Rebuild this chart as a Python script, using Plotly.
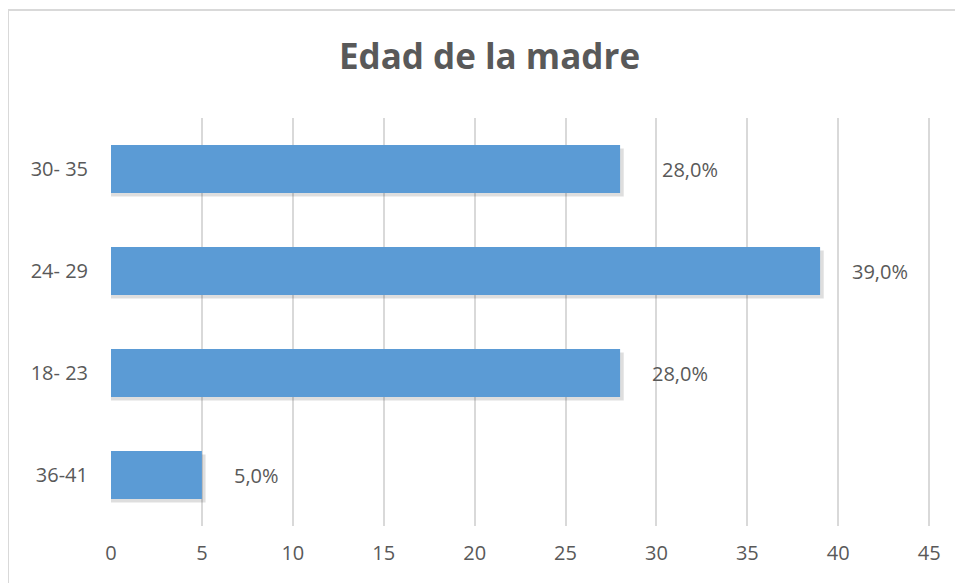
""" Horizontal bar chart: Edad de la madre """
import plotly.graph_objects as go

# data (bottom to top as drawn)
grupos = ["36-41", "18- 23", "24- 29", "30- 35"]
valores = [5, 28, 39, 28]
porcentajes = [5.0, 28.0, 39.0, 28.0]
x_ticks = [0, 5, 10, 15, 20, 25, 30, 35, 40, 45]

etiquetas = [f"{p:.1f}%".replace(".", ",") for p in porcentajes]
# pixel gap between bar end and its label (top label sits a bit further out)
desplaz = [30, 30, 30, 40]

gris = "#595959"
azul = "#5B9BD5"
fuente = "Open Sans"

fig = go.Figure()
# soft shadow behind each bar
fig.add_bar(
    y=grupos, x=[v + 0.2 for v in valores], orientation="h",
    width=0.47, offset=-0.235 - 0.035,
    marker=dict(color="rgba(0,0,0,0.13)", line=dict(width=0)),
    showlegend=False, hoverinfo="skip",
)
fig.add_bar(
    y=grupos, x=valores, orientation="h",
    width=0.47, offset=-0.235,
    marker=dict(color=azul, line=dict(width=0)),
    showlegend=False, hoverinfo="skip",
)

# value labels to the right of each bar
for g, v, t, d in zip(grupos, valores, etiquetas, desplaz):
    fig.add_annotation(
        x=v, y=g, text=t, showarrow=False,
        xanchor="left", xshift=d,
        font=dict(family=fuente, size=20, color=gris),
    )

# outer chart border (left and top edges visible)
fig.add_shape(
    type="path", xref="paper", yref="paper",
    path="M -0.1256,-0.3 L -0.1256,1.2647 L 1.2,1.2647",
    line=dict(color="#d9d9d9", width=2),
)

fig.update_xaxes(
    range=[0, 45.1],
    tickvals=x_ticks,
    showgrid=True, gridcolor="#d9d9d9", gridwidth=2,
    zeroline=False, showline=False,
    ticks="", ticklabelstandoff=13,
    tickfont=dict(family=fuente, size=20, color=gris),
)
fig.update_yaxes(
    categoryorder="array", categoryarray=grupos,
    showgrid=False, zeroline=False, showline=False,
    ticks="", ticklabelstandoff=22,
    tickfont=dict(family=fuente, size=20, color=gris),
)

fig.update_layout(
    width=963, height=583,
    margin=dict(l=103, r=40, t=110, b=65),
    title=dict(
        text="<b>Edad de la madre</b>",
        x=0.5, xanchor="center",
        y=1 - 49 / 583, yanchor="middle",
        font=dict(family=fuente, size=35, color=gris),
    ),
    paper_bgcolor="white",
    plot_bgcolor="white",
    barmode="overlay",
)

fig.write_html("out.html")
